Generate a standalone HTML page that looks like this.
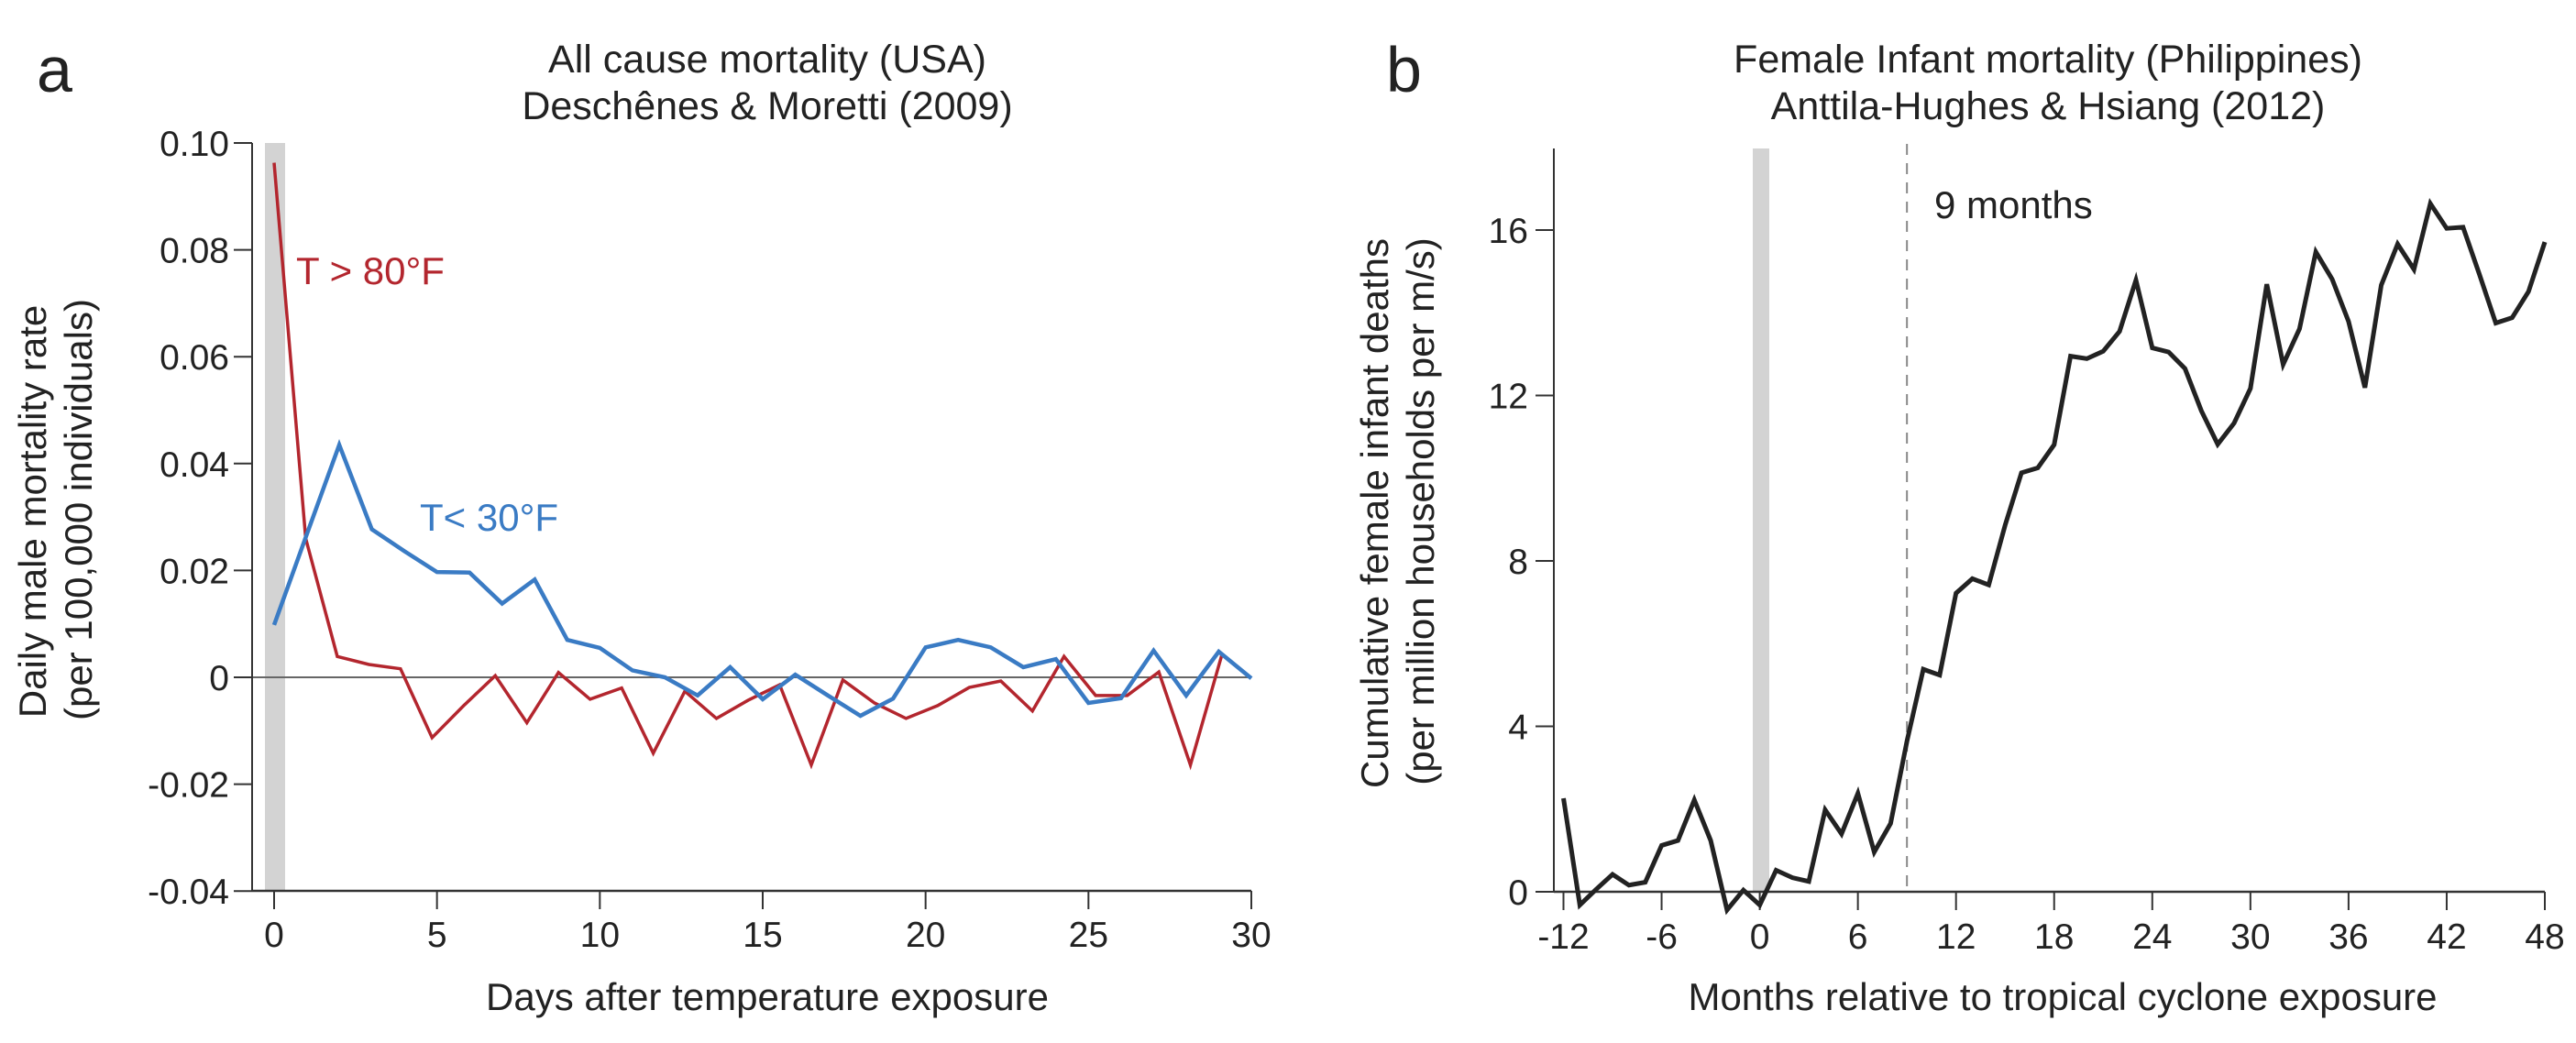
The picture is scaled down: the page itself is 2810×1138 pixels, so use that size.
<!DOCTYPE html>
<html><head><meta charset="utf-8"><style>
html,body{margin:0;padding:0;background:#fff;}
svg{display:block;font-family:"Liberation Sans",Arial,sans-serif;}
</style></head><body>
<svg id="fig" width="2810" height="1138" viewBox="0 0 2810 1138" xmlns="http://www.w3.org/2000/svg">
<g id="pa"></g>
<g id="pb"></g>
</svg>
<script>
// Panel a data
const aBlueDays = [0,1,2,3,4,5,6,7,8,9,10,11,12,13,14,15,16,17,18,19,20,21,22,23,24,25,26,27,28,29,30];
const aBlueVals = [0.0098,0.0267,0.0435,0.0277,0.0236,0.0197,0.0196,0.0138,0.0183,0.007,0.0055,0.0013,0.0,-0.0034,0.0019,-0.0041,0.0005,-0.0034,-0.0072,-0.004,0.0056,0.007,0.0056,0.0019,0.0034,-0.0048,-0.0039,0.005,-0.0034,0.0048,-0.0002];
const aRedDays = [0,0.97,1.94,2.91,3.88,4.85,5.82,6.79,7.76,8.73,9.7,10.67,11.64,12.61,13.58,14.55,15.52,16.49,17.46,18.43,19.4,20.37,21.34,22.31,23.28,24.25,25.22,26.19,27.16,28.13,29.1];
const aRedVals = [0.0963,0.026,0.0039,0.0024,0.0016,-0.0113,-0.0053,0.0003,-0.0085,0.0009,-0.0041,-0.002,-0.0142,-0.0026,-0.0077,-0.0043,-0.0014,-0.0164,-0.0005,-0.0048,-0.0077,-0.0053,-0.0019,-0.0007,-0.0063,0.0039,-0.0034,-0.0034,0.001,-0.0164,0.0043];
const aXTicks = [0,5,10,15,20,25,30];
const aYTicks = [0.10,0.08,0.06,0.04,0.02,0,-0.02,-0.04];
const aYTickLabels = ["0.10","0.08","0.06","0.04","0.02","0","-0.02","-0.04"];
// Panel b data
const bMonths = [-12,-11,-10,-9,-8,-7,-6,-5,-4,-3,-2,-1,0,1,2,3,4,5,6,7,8,9,10,11,12,13,14,15,16,17,18,19,20,21,22,23,24,25,26,27,28,29,30,31,32,33,34,35,36,37,38,39,40,41,42,43,44,45,46,47,48];
const bVals = [2.26,-0.32,0.06,0.42,0.16,0.23,1.12,1.24,2.22,1.24,-0.44,0.04,-0.32,0.52,0.34,0.25,1.98,1.4,2.38,0.96,1.65,3.64,5.38,5.24,7.22,7.57,7.42,8.86,10.13,10.25,10.81,12.95,12.89,13.07,13.55,14.79,13.15,13.05,12.65,11.63,10.82,11.33,12.17,14.69,12.75,13.61,15.47,14.81,13.79,12.19,14.67,15.66,15.05,16.64,16.04,16.07,14.93,13.75,13.88,14.51,15.71];
const bXTicks = [-12,-6,0,6,12,18,24,30,36,42,48];
const bYTicks = [0,4,8,12,16];

const NS = "http://www.w3.org/2000/svg";
function mk(parent, tag, attrs, text){
  const e = document.createElementNS(NS, tag);
  for (const k in attrs) e.setAttribute(k, attrs[k]);
  if (text !== undefined) e.textContent = text;
  parent.appendChild(e);
  return e;
}
const FS = 39;

// ---------- Panel a ----------
const pa = document.getElementById('pa');
const ax = d => 299 + (d - 0) * (1365 - 299) / 30;
const ay = v => 739 - v * (739 - 156) / 0.10;

let el = mk(pa,'rect',{x:289,y:156,width:22,height:816,fill:'#d3d3d3'});



el = mk(pa,'line',{x1:275,y1:ay(0),x2:ax(30),y2:ay(0),stroke:'#666',"stroke-width":2});



el = mk(pa,'line',{x1:275,y1:156,x2:275,y2:972,stroke:'#333',"stroke-width":2});


el = mk(pa,'line',{x1:275,y1:972,x2:ax(30),y2:972,stroke:'#333',"stroke-width":2.5});



aYTicks.forEach((v,i)=>{
  const t = mk(pa,'line',{x1:255,y1:ay(v),x2:275,y2:ay(v),stroke:'#333',"stroke-width":2});
  
  
  const l = mk(pa,'text',{x:250,y:ay(v)+14,"text-anchor":"end","font-size":FS,fill:'#222'},aYTickLabels[i]);
  
  
});
aXTicks.forEach(d=>{
  const t = mk(pa,'line',{x1:ax(d),y1:972,x2:ax(d),y2:992,stroke:'#333',"stroke-width":2});
  
  
  const l = mk(pa,'text',{x:ax(d),y:1033,"text-anchor":"middle","font-size":FS,fill:'#222'},String(d));
  
  
});

el = mk(pa,'polyline',{points:aRedDays.map((d,i)=>ax(d)+','+ay(aRedVals[i])).join(' '),fill:'none',stroke:'#b3262e',"stroke-width":3.5,"stroke-linejoin":"miter"});


el = mk(pa,'polyline',{points:aBlueDays.map((d,i)=>ax(d)+','+ay(aBlueVals[i])).join(' '),fill:'none',stroke:'#3a7bc4',"stroke-width":4.5,"stroke-linejoin":"miter"});



el = mk(pa,'text',{x:323,y:310,"font-size":42,fill:'#b3262e'},'T > 80°F');


el = mk(pa,'text',{x:458,y:579,"font-size":42,fill:'#3a7bc4'},'T< 30°F');



el = mk(pa,'text',{x:40,y:100,"font-size":70,fill:'#222'},'a');


el = mk(pa,'text',{x:837,y:79,"text-anchor":"middle","font-size":43,fill:'#222'},'All cause mortality (USA)');


el = mk(pa,'text',{x:837,y:130,"text-anchor":"middle","font-size":43,fill:'#222'},'Deschênes & Moretti (2009)');


el = mk(pa,'text',{x:837,y:1102,"text-anchor":"middle","font-size":42,fill:'#222'},'Days after temperature exposure');


el = mk(pa,'text',{x:0,y:0,"text-anchor":"middle","font-size":42,fill:'#222',transform:'translate(50,558) rotate(-90)'},'Daily male mortality rate');


el = mk(pa,'text',{x:0,y:0,"text-anchor":"middle","font-size":42,fill:'#222',transform:'translate(100,556) rotate(-90)'},'(per 100,000 individuals)');



// ---------- Panel b ----------
const pb = document.getElementById('pb');
const bx = m => 1705.5 + (m + 12) * (2776 - 1705.5) / 60;
const by = v => 973 - v * (973 - 251) / 16;

el = mk(pb,'rect',{x:1912,y:162,width:18,height:811,fill:'#d3d3d3'});


el = mk(pb,'line',{x1:bx(9),y1:157,x2:bx(9),y2:973,stroke:'#888',"stroke-width":2,"stroke-dasharray":"12,9"});



el = mk(pb,'line',{x1:1695,y1:162,x2:1695,y2:973,stroke:'#333',"stroke-width":2});


el = mk(pb,'line',{x1:1695,y1:973,x2:bx(48),y2:973,stroke:'#333',"stroke-width":2.5});



bYTicks.forEach(v=>{
  const t = mk(pb,'line',{x1:1675,y1:by(v),x2:1695,y2:by(v),stroke:'#333',"stroke-width":2});
  
  
  const l = mk(pb,'text',{x:1667,y:by(v)+14,"text-anchor":"end","font-size":FS,fill:'#222'},String(v));
  
  
});
bXTicks.forEach(m=>{
  const t = mk(pb,'line',{x1:bx(m),y1:973,x2:bx(m),y2:993,stroke:'#333',"stroke-width":2});
  
  
  const l = mk(pb,'text',{x:bx(m),y:1035,"text-anchor":"middle","font-size":FS,fill:'#222'},String(m));
  
  
});

el = mk(pb,'polyline',{points:bMonths.map((m,i)=>bx(m)+','+by(bVals[i])).join(' '),fill:'none',stroke:'#222',"stroke-width":5,"stroke-linejoin":"miter"});



el = mk(pb,'text',{x:2110,y:238,"font-size":42,fill:'#222'},'9 months');


el = mk(pb,'text',{x:1512,y:100,"font-size":70,fill:'#222'},'b');


el = mk(pb,'text',{x:2234,y:79,"text-anchor":"middle","font-size":43,fill:'#222'},'Female Infant mortality (Philippines)');


el = mk(pb,'text',{x:2234,y:130,"text-anchor":"middle","font-size":43,fill:'#222'},'Anttila-Hughes & Hsiang (2012)');


el = mk(pb,'text',{x:2250,y:1102,"text-anchor":"middle","font-size":42,fill:'#222'},'Months relative to tropical cyclone exposure');


el = mk(pb,'text',{x:0,y:0,"text-anchor":"middle","font-size":42,fill:'#222',transform:'translate(1514,560) rotate(-90)'},'Cumulative female infant deaths');


el = mk(pb,'text',{x:0,y:0,"text-anchor":"middle","font-size":42,fill:'#222',transform:'translate(1564,558) rotate(-90)'},'(per million households per m/s)');


</script>
</body></html>
